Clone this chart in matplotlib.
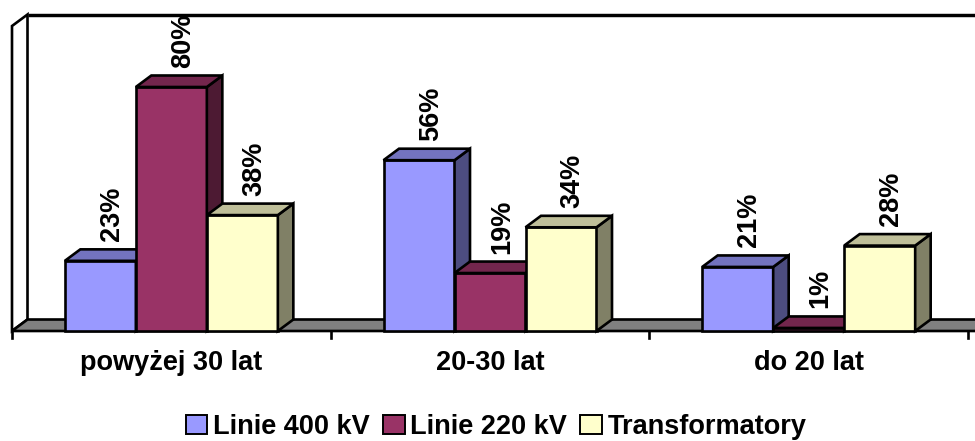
import matplotlib
matplotlib.use("Agg")
import matplotlib.pyplot as plt
from matplotlib.patches import Polygon, Patch

# ---- data ----
categories = ["powyżej 30 lat", "20-30 lat", "do 20 lat"]
series_names = ["Linie 400 kV", "Linie 220 kV", "Transformatory"]
linie_400 = [23, 56, 21]
linie_220 = [80, 19, 1]
transformatory = [38, 34, 28]
series_values = [linie_400, linie_220, transformatory]

# ---- styling ----
front_colors = ["#9999FF", "#993366", "#FFFFCC"]
top_colors = ["#7373BF", "#73264D", "#BFBF99"]
side_colors = ["#4D4D80", "#4D1A33", "#808066"]
floor_color = "#808080"
EDGE_LW = 1.9
FONT = {"family": ["Liberation Sans", "DejaVu Sans"], "weight": "bold"}
FONT_SIZE = 19.5

W, H = 975, 441
fig = plt.figure(figsize=(W / 100, H / 100), dpi=100)
ax = fig.add_axes([0, 0, 1, 1])
ax.set_axis_off()

# scale: one category spans cat_px pixels, one percent spans unit_px pixels
x0_px, cat_px = 12, 318.67
base_px, unit_px = 331, 3.05
ax.set_xlim(-x0_px / cat_px, (W - x0_px) / cat_px)
ax.set_ylim(-(H - base_px) / unit_px, base_px / unit_px)

ymax = 100
n_cat = len(categories)
dx = 15.5 / cat_px          # depth offset, x direction
dy = 11.5 / unit_px         # depth offset, y direction
bar_w = 71 / cat_px


def poly(pts, fc, z):
    ax.add_patch(Polygon(pts, closed=True, facecolor=fc, edgecolor="black",
                         linewidth=EDGE_LW, joinstyle="miter", zorder=z,
                         clip_on=False))


# back wall top edge and left wall
ax.plot([dx, n_cat + dx + 0.5], [ymax + dy, ymax + dy], color="black",
        lw=EDGE_LW * 1.3, zorder=1, clip_on=False, solid_capstyle="butt")
poly([(0, 0), (0, ymax), (dx, ymax + dy), (dx, dy)], "white", 2)

# floor
poly([(0, 0), (n_cat + 0.5, 0), (n_cat + 0.5 + dx, dy), (dx, dy)], floor_color, 2)

# category tick marks below the floor edge
tick_len = 7 / unit_px
for i in range(n_cat + 1):
    ax.plot([i, i], [0, -tick_len], color="black", lw=EDGE_LW, zorder=3,
            clip_on=False)

# bars, drawn left to right so each bar covers the side of the previous one
n_ser = len(series_values)
z = 10
for ci in range(n_cat):
    center = ci + 0.5
    for si, vals in enumerate(series_values):
        v = vals[ci]
        xl = center + (si - n_ser / 2) * bar_w
        xr = xl + bar_w
        poly([(xl, 0), (xr, 0), (xr, v), (xl, v)], front_colors[si], z)
        poly([(xr, 0), (xr + dx, dy), (xr + dx, v + dy), (xr, v)], side_colors[si], z)
        poly([(xl, v), (xr, v), (xr + dx, v + dy), (xl + dx, v + dy)], top_colors[si], z)
        z += 1
        ax.text(xl + bar_w / 2 + dx / 2 + 4 / cat_px, v + dy + 8 / unit_px,
                f"{v}%", rotation=90, ha="center", va="bottom",
                fontsize=FONT_SIZE, zorder=100, **FONT)

# category labels
for ci, name in enumerate(categories):
    ax.text(ci + 0.5, -19 / unit_px, name, ha="center", va="top",
            fontsize=FONT_SIZE, **FONT)

# legend
handles = [Patch(facecolor=c, edgecolor="black", linewidth=1.4)
           for c in front_colors]
leg = ax.legend(handles, series_names, loc="center",
                bbox_to_anchor=(496 / W, 1 - 427 / H),
                bbox_transform=fig.transFigure, ncol=3, frameon=False,
                prop={"family": FONT["family"], "weight": "bold",
                      "size": FONT_SIZE},
                handlelength=0.8, handleheight=0.75, handletextpad=0.2,
                columnspacing=0.5, borderpad=0, borderaxespad=0)

fig.savefig("out.png", dpi=100)
